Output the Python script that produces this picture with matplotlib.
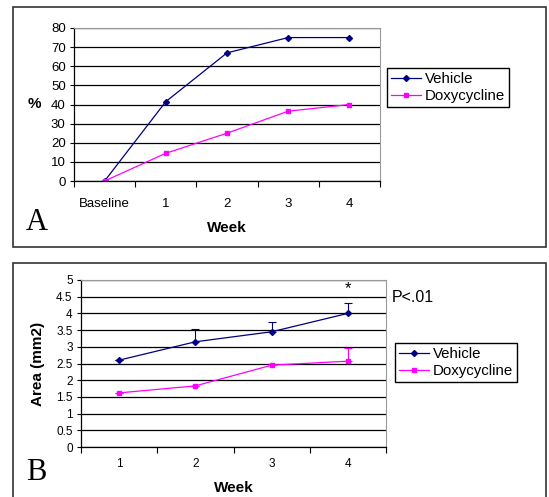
import matplotlib
matplotlib.use('Agg')
import matplotlib.pyplot as plt
from matplotlib.patches import Rectangle
from matplotlib.lines import Line2D
from matplotlib.ticker import FuncFormatter

# data panel A (% of animals)
weeks_a = ['Baseline', '1', '2', '3', '4']
vehicle_a = [0, 41.5, 67, 75, 75]
doxy_a = [0, 14.5, 25, 36.5, 40]

# data panel B (area, mm2)
weeks_b = ['1', '2', '3', '4']
vehicle_b = [2.6, 3.15, 3.45, 4.0]
vehicle_b_err = [0.0, 0.37, 0.3, 0.32]
doxy_b = [1.62, 1.83, 2.45, 2.57]
doxy_b_err = [0.0, 0.0, 0.05, 0.4]

navy = '#000080'
pink = '#FF00FF'

W, H = 549, 497
plt.rcParams['font.family'] = ['Liberation Sans', 'DejaVu Sans']
fig = plt.figure(figsize=(W / 100, H / 100), dpi=100)


def fx(px):
    return px / W


def fy(py):
    return 1 - py / H


# outer frames
fig.patches.append(Rectangle((fx(13), fy(247)), fx(533), (247 - 7) / H,
                             transform=fig.transFigure, fill=False, lw=1.2, ec='#333333'))
fig.patches.append(Rectangle((fx(13), fy(499)), fx(533), (499 - 263) / H,
                             transform=fig.transFigure, fill=False, lw=1.2, ec='#333333'))


def style_axes(ax, yticks, fs, xpad):
    ax.set_yticks(yticks)
    ax.yaxis.grid(True, color='black', lw=0.9)
    ax.set_axisbelow(True)
    for s in ['top', 'right']:
        ax.spines[s].set_color('#999999')
        ax.spines[s].set_linewidth(0.8)
    ax.spines['left'].set_linewidth(0.9)
    ax.spines['bottom'].set_linewidth(0.9)
    ax.tick_params(axis='y', direction='out', length=3, width=0.8, labelsize=fs, pad=3)
    ax.tick_params(axis='x', which='major', length=0, labelsize=fs, pad=xpad)
    ax.tick_params(axis='x', which='minor', direction='out', length=4, width=0.8)


def make_legend(ax, x0, y0):
    handles = [Line2D([], [], color=navy, lw=0.9, marker='D', ms=3),
               Line2D([], [], color=pink, lw=0.9, marker='s', ms=3.5)]
    ax.legend(handles, ['Vehicle', 'Doxycycline'], loc='upper left',
              bbox_to_anchor=(fx(x0), fy(y0)), bbox_transform=fig.transFigure,
              fontsize=10.8, frameon=True, fancybox=False, edgecolor='black',
              framealpha=1, borderpad=0.25, borderaxespad=0, handlelength=2,
              handletextpad=0.3, labelspacing=0.2)


# ---- panel A ----
ax1 = fig.add_axes([fx(74), fy(181), fx(306), (181 - 28) / H])
xa = list(range(len(weeks_a)))
ax1.plot(xa, vehicle_a, color=navy, lw=0.9, marker='D', ms=3)
ax1.plot(xa, doxy_a, color=pink, lw=0.9, marker='s', ms=3.5)
ax1.set_xlim(-0.5, 4.5)
ax1.set_ylim(0, 80)
ax1.set_xticks(xa)
ax1.set_xticklabels(weeks_a)
ax1.set_xticks([i - 0.5 for i in range(6)], minor=True)
style_axes(ax1, range(0, 81, 10), 9.5, 12)
ax1.set_ylabel('%', fontsize=11, fontweight='bold', rotation=0, labelpad=12, va='center')
ax1.set_xlabel('Week', fontsize=11, fontweight='bold', labelpad=8)
make_legend(ax1, 387, 68)
fig.text(fx(26), fy(222), 'A', fontsize=22, family='Liberation Serif', va='center', ha='left')

# ---- panel B ----
ax2 = fig.add_axes([fx(81), fy(447), fx(305), (447 - 280) / H])
xb = list(range(len(weeks_b)))
ax2.errorbar(xb, vehicle_b, yerr=[[0] * 4, vehicle_b_err], color=navy, lw=0.9,
             marker='D', ms=3, capsize=3, elinewidth=0.8, capthick=0.8)
ax2.errorbar(xb, doxy_b, yerr=[[0] * 4, doxy_b_err], color=pink, lw=0.9,
             marker='s', ms=3.5, capsize=3, elinewidth=0.8, capthick=0.8)
ax2.set_xlim(-0.5, 3.5)
ax2.set_ylim(0, 5)
ax2.set_xticks(xb)
ax2.set_xticklabels(weeks_b)
ax2.set_xticks([i - 0.5 for i in range(5)], minor=True)
style_axes(ax2, [i * 0.5 for i in range(11)], 8.5, 8)
ax2.yaxis.set_major_formatter(FuncFormatter(lambda v, p: ('%g' % v)))
ax2.set_ylabel('Area (mm2)', fontsize=11, fontweight='bold', labelpad=8)
ax2.set_xlabel('Week', fontsize=11, fontweight='bold', labelpad=8)
ax2.text(3, 4.52, '*', fontsize=12, ha='center', va='bottom')
fig.text(fx(392), fy(298), 'P<.01', fontsize=11.5, va='center', ha='left')
make_legend(ax2, 395, 343)
fig.text(fx(26), fy(473), 'B', fontsize=22, family='Liberation Serif', va='center', ha='left')

fig.savefig('out.png', dpi=100)
